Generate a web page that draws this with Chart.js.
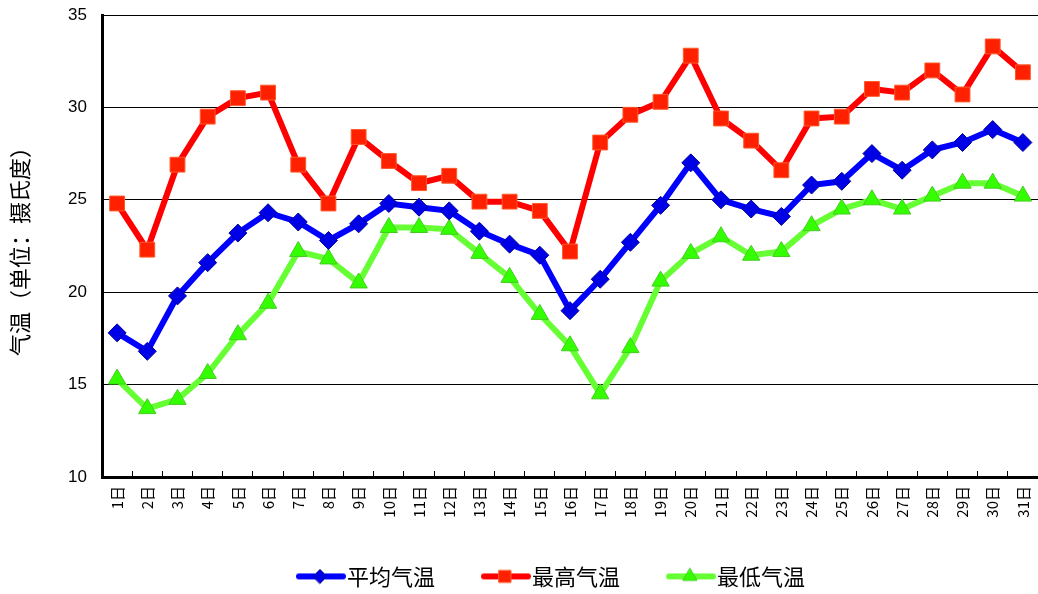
<!DOCTYPE html>
<html>
<head>
<meta charset="utf-8">
<script src="https://cdn.jsdelivr.net/npm/chart.js@4"></script>
<style>
    html, body { margin: 0; padding: 0; background: #fff; }
    #wrap { width: 1038px; height: 594px; }
</style>
</head>
<body>
<div id="wrap"><canvas id="temp-chart"></canvas></div>
<script>
// Data
const days = Array.from({ length: 31 }, (_, i) => (i + 1) + '日');
const avgTemp = [17.8, 16.8, 19.8, 21.6, 23.2, 24.3, 23.8, 22.8, 23.7, 24.8,
    24.6, 24.4, 23.3, 22.6, 22.0, 19.0, 20.7, 22.7, 24.7, 27.0,
    25.0, 24.5, 24.1, 25.8, 26.0, 27.5, 26.6, 27.7, 28.1, 28.8, 28.1];
const maxTemp = [24.8, 22.3, 26.9, 29.5, 30.5, 30.8, 26.9, 24.8, 28.4, 27.1,
    25.9, 26.3, 24.9, 24.9, 24.4, 22.2, 28.1, 29.6, 30.3, 32.8,
    29.4, 28.2, 26.6, 29.4, 29.5, 31.0, 30.8, 32.0, 30.7, 33.3, 31.9];
const minTemp = [15.3, 13.7, 14.2, 15.6, 17.7, 19.4, 22.2, 21.8, 20.5, 23.5,
    23.5, 23.4, 22.1, 20.8, 18.8, 17.1, 14.5, 17.0, 20.6, 22.1,
    23.0, 22.0, 22.2, 23.6, 24.5, 25.0, 24.5, 25.2, 25.9, 25.9, 25.2];
const yTicks = [10, 15, 20, 25, 30, 35];

const CJK = '"Noto Sans CJK SC", "Liberation Sans", sans-serif';

const series = [
    { label: '平均气温', data: avgTemp, line: '#0000FF', fill: '#0000E6', edge: '#00009A', style: 'rectRot', radius: 9 },
    { label: '最高气温', data: maxTemp, line: '#FF0000', fill: '#FF2000', edge: '#FF5A2A', style: 'rect', radius: 10.5 },
    { label: '最低气温', data: minTemp, line: '#66FF33', fill: '#33FF00', edge: '#44CC22', style: 'triangle', radius: 10 }
];

// legend swatch: line with the marker in the middle, sitting right before the text
function makeSwatch(s) {
    const c = document.createElement('canvas');
    c.width = 100;
    c.height = 24;
    const ctx = c.getContext('2d');
    const cx = 72, cy = 12;
    ctx.strokeStyle = s.line;
    ctx.lineWidth = 6;
    ctx.lineCap = 'round';
    ctx.beginPath();
    ctx.moveTo(51, cy);
    ctx.lineTo(95, cy);
    ctx.stroke();
    ctx.fillStyle = s.fill;
    ctx.strokeStyle = s.edge;
    ctx.lineWidth = 1;
    ctx.beginPath();
    const r = s.radius - 2;
    if (s.style === 'rectRot') {
        ctx.moveTo(cx - r, cy); ctx.lineTo(cx, cy - r); ctx.lineTo(cx + r, cy); ctx.lineTo(cx, cy + r);
    } else if (s.style === 'rect') {
        const h = r * Math.SQRT1_2;
        ctx.rect(cx - h, cy - h, 2 * h, 2 * h);
    } else {
        ctx.moveTo(cx, cy - r); ctx.lineTo(cx + r * 0.866, cy + r / 2); ctx.lineTo(cx - r * 0.866, cy + r / 2);
    }
    ctx.closePath();
    ctx.fill();
    ctx.stroke();
    return c;
}

const swatches = series.map(makeSwatch);

// move the legend down and a bit right, like the reference
const legendPlace = {
    id: 'legendPlace',
    afterLayout(chart) {
        const lg = chart.legend;
        if (!lg) return;
        const h = lg.height;
        lg.top = 578 - 10 - 12.6;
        lg.bottom = lg.top + h;
        lg.left += 10;
        lg.right += 10;
    }
};

new Chart(document.getElementById('temp-chart'), {
    type: 'line',
    data: {
        labels: days,
        datasets: series.map(s => ({
            label: s.label,
            data: s.data,
            borderColor: s.line,
            borderWidth: 6,
            tension: 0,
            pointStyle: s.style,
            pointRadius: s.radius,
            pointBackgroundColor: s.fill,
            pointBorderColor: s.edge,
            pointBorderWidth: 1
        }))
    },
    options: {
        responsive: true,
        maintainAspectRatio: false,
        animation: false,
        layout: { autoPadding: false, padding: { top: 15, right: -7, bottom: 0, left: 0 } },
        scales: {
            x: {
                offset: true,
                afterFit: scale => {
                    scale.height = 75;
                    scale.paddingLeft = 0;
                    scale.paddingRight = 0;
                },
                border: { color: '#000', width: 3 },
                grid: {
                    offset: true,
                    drawOnChartArea: false,
                    drawTicks: true,
                    tickLength: -6,
                    color: '#000',
                    lineWidth: 1
                },
                ticks: {
                    autoSkip: false,
                    minRotation: 90,
                    maxRotation: 90,
                    padding: 15,
                    color: '#000',
                    font: { family: CJK, size: 15 }
                }
            },
            y: {
                min: 10,
                max: 35,
                afterFit: scale => {
                    scale.width = 102;
                    scale.paddingTop = 0;
                    scale.paddingBottom = 0;
                },
                afterBuildTicks: scale => { scale.ticks = yTicks.map(v => ({ value: v })); },
                border: { color: '#000', width: 3 },
                grid: { color: '#000', lineWidth: 1, drawTicks: false },
                ticks: {
                    padding: 15,
                    color: '#000',
                    font: { family: '"Liberation Sans", sans-serif', size: 17 }
                },
                title: {
                    display: true,
                    text: '气温（单位：摄氏度）',
                    color: '#000',
                    padding: { top: 6, bottom: 0 },
                    font: { family: CJK, size: 22 }
                }
            }
        },
        plugins: {
            tooltip: { enabled: false },
            legend: {
                position: 'bottom',
                labels: {
                    usePointStyle: true,
                    pointStyleWidth: 76,
                    padding: 10,
                    color: '#000',
                    font: { family: CJK, size: 22 },
                    generateLabels: chart => {
                        const items = Chart.defaults.plugins.legend.labels.generateLabels(chart);
                        items.forEach((it, i) => { it.pointStyle = swatches[i]; });
                        return items;
                    }
                }
            }
        }
    },
    plugins: [legendPlace]
});
</script>
</body>
</html>
